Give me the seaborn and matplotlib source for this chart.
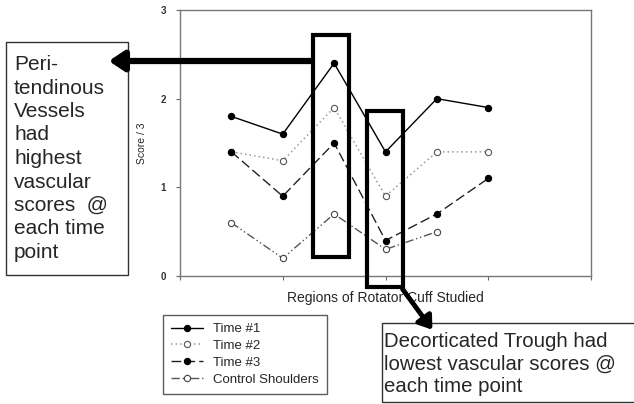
import numpy as np
import pandas as pd
import matplotlib
matplotlib.use("Agg")
import matplotlib.pyplot as plt
import seaborn as sns
from matplotlib.patches import Rectangle, FancyArrowPatch
from matplotlib.lines import Line2D

# ==========================================
# DATA
# ==========================================
regions = [1, 2, 3, 4, 5, 6]
time1 = [1.8, 1.6, 2.4, 1.4, 2.0, 1.9]
time2 = [1.4, 1.3, 1.9, 0.9, 1.4, 1.4]
time3 = [1.4, 0.9, 1.5, 0.4, 0.7, 1.1]
control = [0.6, 0.2, 0.7, 0.3, 0.5, np.nan]
series_names = ["Time #1", "Time #2", "Time #3", "Control Shoulders"]
y_ticks = [0, 1, 2, 3]

df = pd.DataFrame({"Region": regions, "Time #1": time1, "Time #2": time2,
                   "Time #3": time3, "Control Shoulders": control})

# ==========================================
# STYLE
# ==========================================
sns.set_theme(style="white")
plt.rcParams["font.family"] = ["Liberation Sans", "DejaVu Sans"]

styles = {
    "Time #1": dict(color="black", linestyle="-", mfc="black", mec="black", lw=1.0),
    "Time #2": dict(color="#999999", linestyle=(0, (1, 2)), mfc="white", mec="#555555", lw=1.1),
    "Time #3": dict(color="#222222", linestyle=(0, (7, 3)), mfc="black", mec="black", lw=1.0),
    "Control Shoulders": dict(color="#555555", linestyle=(0, (6, 2, 1, 2, 1, 2)),
                              mfc="white", mec="#444444", lw=1.0),
}

fig = plt.figure(figsize=(6.34, 4.04), dpi=100)
# plot area spans 180..591 px horizontally, 10..276 px vertically
ax = fig.add_axes([180 / 634, 1 - 276 / 404, 411 / 634, 266 / 404])

handles = []
for name in series_names:
    st = styles[name]
    sns.lineplot(data=df, x="Region", y=name, ax=ax, color=st["color"], linestyle=st["linestyle"],
                 linewidth=st["lw"], marker="o", markersize=4.5,
                 markerfacecolor=st["mfc"], markeredgecolor=st["mec"], markeredgewidth=0.8)
    handles.append(Line2D([], [], color=st["color"], linestyle=st["linestyle"], lw=st["lw"],
                          marker="o", markersize=4.5, mfc=st["mfc"], mec=st["mec"], mew=0.8))

ax.set_xlim(0, 8)
ax.set_ylim(0, 3)
ax.set_xticks([0, 2, 4, 6, 8])
ax.set_xticklabels([])
ax.set_yticks(y_ticks)
ax.set_yticklabels([str(t) for t in y_ticks], fontsize=7, fontweight="bold", color="#333333")
ax.tick_params(axis="both", direction="out", length=3, width=0.8, color="#666666",
               bottom=True, left=True, pad=7)
for side in ["left", "bottom", "top", "right"]:
    ax.spines[side].set_color("#777777")
    ax.spines[side].set_linewidth(1.0)
ax.set_xlabel("Regions of Rotator Cuff Studied", fontsize=10, labelpad=1)
ax.set_ylabel("Score / 3", fontsize=7.5, labelpad=10)

# highlight boxes
ax.add_patch(Rectangle((2.59, 0.21), 0.70, 2.51, fill=False, lw=3, ec="black", clip_on=False, zorder=5))
ax.add_patch(Rectangle((3.64, -0.12), 0.70, 1.98, fill=False, lw=3, ec="black", clip_on=False, zorder=5))


def fpx(x, y):
    return (x / 634, 1 - y / 404)


# annotation text boxes
box1 = "Peri-\ntendinous\nVessels\nhad\nhighest\nvascular\nscores  @\neach time\npoint"
fig.patches.append(Rectangle(fpx(6, 275), 122 / 634, 233 / 404, transform=fig.transFigure,
                             fill=True, fc="white", ec="#333333", lw=1.0, zorder=1))
fig.text(14 / 634, 1 - 55 / 404, box1, fontsize=15, va="top", ha="left", linespacing=1.3, zorder=2)

box2 = "Decorticated Trough had\nlowest vascular scores @\neach time point"
fig.patches.append(Rectangle(fpx(382, 402), 260 / 634, 79 / 404, transform=fig.transFigure,
                             fill=True, fc="white", ec="#333333", lw=1.0, zorder=1))
fig.text(384 / 634, 1 - 332 / 404, box2, fontsize=14.7, va="top", ha="left", linespacing=1.25, zorder=2)

# arrows (figure pixel coords), drawn over the boxes
fig.patches.append(FancyArrowPatch(fpx(313, 61), fpx(106, 61), transform=fig.transFigure,
                                   arrowstyle="-|>,head_length=6,head_width=4", lw=4.5, color="black",
                                   mutation_scale=1.5, zorder=6))
fig.patches.append(FancyArrowPatch(fpx(401, 287), fpx(434, 332), transform=fig.transFigure,
                                   arrowstyle="-|>,head_length=5,head_width=3.5", lw=3.5, color="black",
                                   mutation_scale=1.5, zorder=6))

# legend
leg = fig.legend(handles, series_names, loc="upper left", bbox_to_anchor=fpx(163, 315),
                 fontsize=9.5, frameon=True, fancybox=False, edgecolor="#333333",
                 handlelength=2.4, labelspacing=0.35, borderpad=0.6, handletextpad=0.8,
                 borderaxespad=0)
leg.get_frame().set_linewidth(1.0)

fig.savefig("out.png", dpi=100)
